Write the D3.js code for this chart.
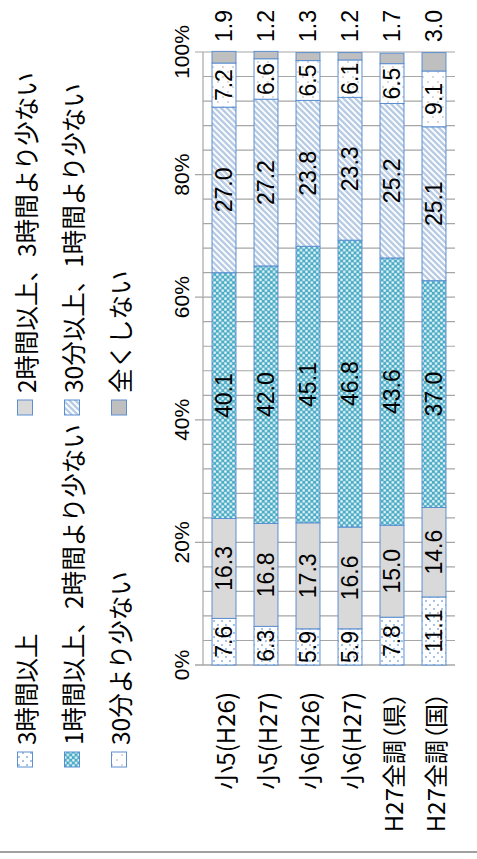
<!DOCTYPE html>
<html>
<head>
<meta charset="utf-8">
<script src="https://cdn.jsdelivr.net/npm/d3@7"></script>
<style>
  body { margin: 0; background: #fff; }
  text { fill: #000; }
  .jp { font-family: "Noto Sans CJK JP", sans-serif; }
  .palt { font-feature-settings: "palt"; }
</style>
</head>
<body>
<div id="chart"></div>
<script>
// categories (top to bottom in the unrotated chart)
var categories = ['小5(H26)', '小5(H27)', '小6(H26)', '小6(H27)', 'H27全調（県）', 'H27全調（国）'];
var seriesNames = ['3時間以上', '2時間以上、3時間より少ない', '1時間以上、2時間より少ない',
                   '30分以上、1時間より少ない', '30分より少ない', '全くしない'];
var over3h   = [7.6, 6.3, 5.9, 5.9, 7.8, 11.1];
var h2to3    = [16.3, 16.8, 17.3, 16.6, 15.0, 14.6];
var h1to2    = [40.1, 42.0, 45.1, 46.8, 43.6, 37.0];
var m30to1h  = [27.0, 27.2, 23.8, 23.3, 25.2, 25.1];
var under30m = [7.2, 6.6, 6.5, 6.1, 6.5, 9.1];
var never    = [1.9, 1.2, 1.3, 1.2, 1.7, 3.0];
var tickValues = [0, 20, 40, 60, 80, 100];

var seriesValues = [over3h, h2to3, h1to2, m30to1h, under30m, never];
var fills = ['url(#dotBlue)', '#d9d9d9', 'url(#checker)', 'url(#stripe)', 'url(#dotGray)', '#bfbfbf'];

var W = 477, H = 859;
var svg = d3.select('#chart').append('svg')
  .attr('width', W).attr('height', H);

// patterns
var defs = svg.append('defs');
var p = defs.append('pattern').attr('id', 'dotBlue').attr('patternUnits', 'userSpaceOnUse')
  .attr('width', 8).attr('height', 8);
p.append('rect').attr('width', 8).attr('height', 8).attr('fill', '#fff');
p.append('circle').attr('cx', 2).attr('cy', 2).attr('r', 0.9).attr('fill', '#7ea6d9');
p.append('circle').attr('cx', 6).attr('cy', 6).attr('r', 0.9).attr('fill', '#7ea6d9');

p = defs.append('pattern').attr('id', 'dotGray').attr('patternUnits', 'userSpaceOnUse')
  .attr('width', 10).attr('height', 10);
p.append('rect').attr('width', 10).attr('height', 10).attr('fill', '#fff');
p.append('circle').attr('cx', 2).attr('cy', 3).attr('r', 0.9).attr('fill', '#c8c8c8');
p.append('circle').attr('cx', 7).attr('cy', 8).attr('r', 0.9).attr('fill', '#c8c8c8');

p = defs.append('pattern').attr('id', 'checker').attr('patternUnits', 'userSpaceOnUse')
  .attr('width', 5.4).attr('height', 5.4);
p.append('rect').attr('width', 5.4).attr('height', 5.4).attr('fill', '#4bacc6');
p.append('rect').attr('x', 0.25).attr('y', 0.25).attr('width', 2.2).attr('height', 2.2).attr('fill', '#fff');
p.append('rect').attr('x', 2.95).attr('y', 2.95).attr('width', 2.2).attr('height', 2.2).attr('fill', '#fff');

p = defs.append('pattern').attr('id', 'stripe').attr('patternUnits', 'userSpaceOnUse')
  .attr('width', 6).attr('height', 6);
p.append('rect').attr('width', 6).attr('height', 6).attr('fill', '#fff');
p.append('path').attr('d', 'M-1,7 L7,-1 M-2,2 L2,-2 M4,8 L8,4')
  .attr('stroke', '#b8cce4').attr('stroke-width', 2.4);

// bottom rule of the picture
svg.append('line').attr('x1', 0).attr('x2', W).attr('y1', 852).attr('y2', 852)
  .attr('stroke', '#a0a0a0').attr('stroke-width', 2);

// the whole chart is drawn sideways
var g = svg.append('g').attr('transform', 'translate(0,' + H + ') rotate(-90)');

var x = d3.scaleLinear().domain([0, 100]).range([194, 807]);
var y = d3.scaleBand().domain(categories).range([203, 455])
  .paddingInner(0.43).paddingOuter(0.215);

// gridlines every 4%
var grid = d3.range(0, 101, 4);
g.selectAll('.grid').data(grid).enter().append('line')
  .attr('class', 'grid')
  .attr('x1', function(d) { return x(d); }).attr('x2', function(d) { return x(d); })
  .attr('y1', function(d) { return d % 20 === 0 ? 195 : 203; })
  .attr('y2', 455)
  .attr('stroke', '#a6a6a6').attr('stroke-width', function(d) { return d === 0 ? 1.6 : 1.2; });

g.append('line').attr('x1', x(0)).attr('x2', x(100)).attr('y1', 203).attr('y2', 203)
  .attr('stroke', '#a6a6a6').attr('stroke-width', 1.2);

// value tick labels
g.selectAll('.tick-label').data(tickValues).enter().append('text')
  .attr('x', function(d) { return x(d); }).attr('y', 181)
  .attr('text-anchor', 'middle').attr('dominant-baseline', 'central')
  .style('font-family', 'Liberation Sans, Arial, sans-serif').style('font-size', '21px')
  .text(function(d) { return d + '%'; });

// category labels
g.selectAll('.cat').data(categories).enter().append('text')
  .attr('class', 'jp palt')
  .attr('x', 167).attr('y', function(d) { return y(d) + y.bandwidth() / 2; })
  .attr('text-anchor', 'end').attr('dominant-baseline', 'central')
  .style('font-size', '24px')
  .text(function(d) { return d; });

// stacked bars
var rows = categories.map(function(c, i) {
  var r = { cat: c };
  seriesValues.forEach(function(s, k) { r['s' + k] = s[i]; });
  return r;
});
var keys = seriesValues.map(function(s, k) { return 's' + k; });
var stacked = d3.stack().keys(keys)(rows);

var layers = g.selectAll('.layer').data(stacked).enter().append('g')
  .attr('fill', function(d, k) { return fills[k]; });
layers.selectAll('rect').data(function(d) { return d; }).enter().append('rect')
  .attr('x', function(d) { return x(d[0]); })
  .attr('width', function(d) { return x(d[1]) - x(d[0]); })
  .attr('y', function(d) { return y(d.data.cat); })
  .attr('height', y.bandwidth())
  .attr('stroke', '#5b8fd2').attr('stroke-width', 1);

// data labels
stacked.forEach(function(layer, k) {
  g.selectAll('.lbl' + k).data(layer).enter().append('text')
    .attr('x', function(d) { return k === 5 ? x(100) + 10 : x((d[0] + d[1]) / 2); })
    .attr('y', function(d) { return y(d.data.cat) + y.bandwidth() / 2; })
    .attr('text-anchor', k === 5 ? 'start' : 'middle')
    .attr('dominant-baseline', 'central')
    .style('font-family', 'Liberation Sans, Arial, sans-serif').style('font-size', '23px')
    .text(function(d) { return (d[1] - d[0]).toFixed(1); });
});

// legend: two columns, three rows
var legend = g.selectAll('.legend').data(seriesNames).enter().append('g')
  .attr('transform', function(d, i) {
    return 'translate(' + (i % 2 === 0 ? 92 : 444) + ',' + (25 + Math.floor(i / 2) * 47) + ')';
  });
legend.append('rect').attr('x', 0).attr('y', -7.5).attr('width', 15).attr('height', 15)
  .attr('fill', function(d, i) { return fills[i]; })
  .attr('stroke', '#5b8fd2').attr('stroke-width', 1);
legend.append('text').attr('class', 'jp').attr('x', 22).attr('y', 0)
  .attr('dominant-baseline', 'central')
  .style('font-size', '24.5px')
  .text(function(d) { return d; });
</script>
</body>
</html>
